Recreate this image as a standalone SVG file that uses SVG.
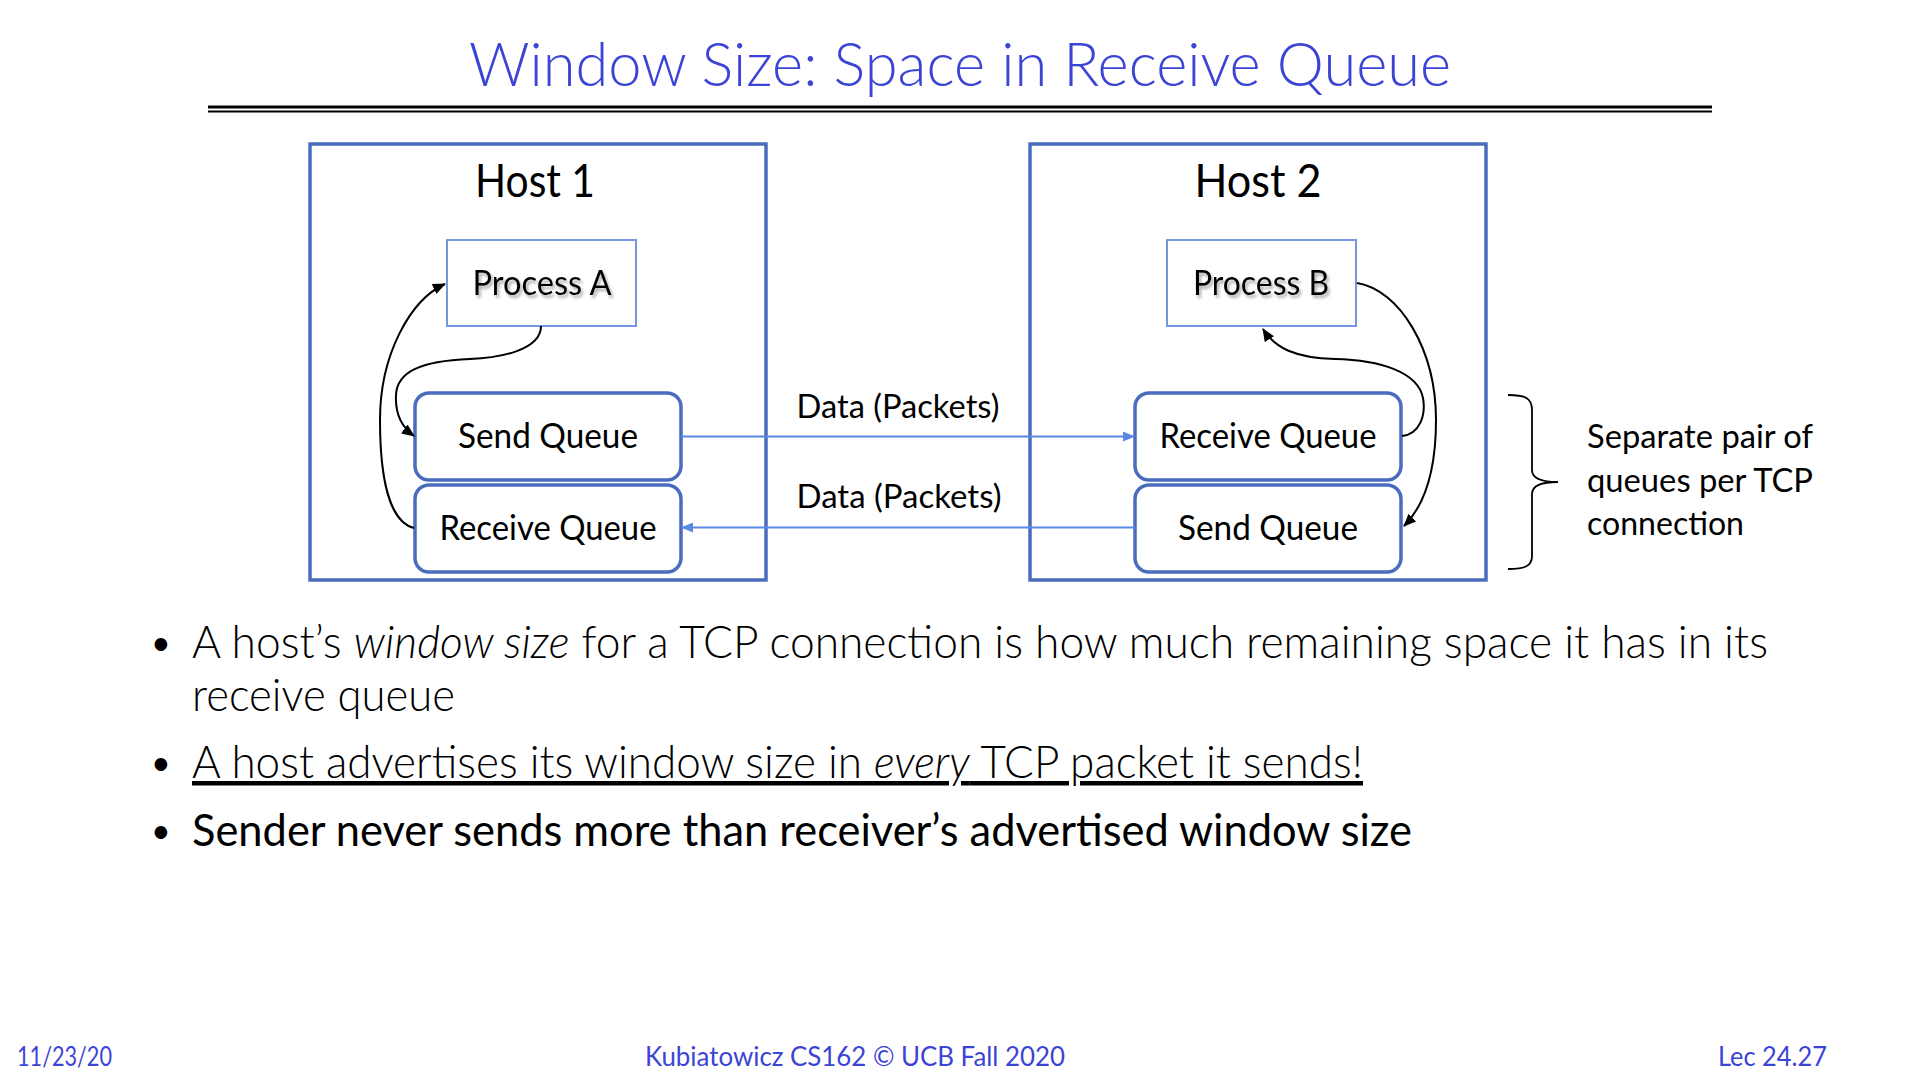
<svg xmlns="http://www.w3.org/2000/svg" width="1920" height="1080" viewBox="0 0 1920 1080">
<style>
  text { font-family: Lato, "Liberation Sans", sans-serif; fill: #000; }
  .title { font-size: 62px; fill: #3B44D4; font-weight: 300; }
  .foot { font-size: 26px; fill: #3B44D4; }
  .host { fill: #fff; stroke: #4A6CBF; stroke-width: 3.5; }
  .proc { fill: #fff; stroke: #7397E2; stroke-width: 2; }
  .queue { fill: #fff; stroke: #4A6CBF; stroke-width: 3.5; }
  .hostlbl { font-size: 46px; }
  .proclbl { font-size: 35px; }
  .qlbl { font-size: 34px; }
  .data { stroke: #5B87E5; stroke-width: 2; fill: none; }
  .curve { stroke: #000; stroke-width: 2; fill: none; marker-end: url(#blackArrow); }
  .dlbl { font-size: 33px; }
  .bullet { font-size: 45px; font-weight: 300; }
  .bullet.strong { font-weight: 400; }
  .dot { font-size: 34px; }
  .note { font-size: 33px; }
</style>
<defs>
  <marker id="blueArrow" markerWidth="12" markerHeight="10" refX="11" refY="5" orient="auto" markerUnits="userSpaceOnUse">
    <path d="M0,0 L12,5 L0,10 z" fill="#5B87E5"/>
  </marker>
  <marker id="blackArrow" markerWidth="13" markerHeight="11" refX="12" refY="5.5" orient="auto" markerUnits="userSpaceOnUse">
    <path d="M0,0 L13,5.5 L0,11 z" fill="#000"/>
  </marker>
  <filter id="shadow" x="-10%" y="-20%" width="130%" height="150%">
    <feDropShadow dx="2" dy="3" stdDeviation="1.6" flood-color="#777" flood-opacity="0.6"/>
  </filter>
</defs>
<rect width="1920" height="1080" fill="#fff"/>

<g id="title">
  <text class="title" x="960" y="86" text-anchor="middle" textLength="982" lengthAdjust="spacingAndGlyphs">Window Size: Space in Receive Queue</text>
  <line x1="208" y1="107" x2="1712" y2="107" stroke="#000" stroke-width="3"/>
  <line x1="208" y1="111.5" x2="1712" y2="111.5" stroke="#000" stroke-width="2"/>
</g>

<g id="host1">
  <rect class="host" x="310" y="144" width="456" height="436"/>
  <text class="hostlbl" x="535" y="197" text-anchor="middle" textLength="120" lengthAdjust="spacingAndGlyphs">Host 1</text>
</g>
<g id="host2">
  <rect class="host" x="1030" y="144" width="456" height="436"/>
  <text class="hostlbl" x="1258" y="197" text-anchor="middle" textLength="127" lengthAdjust="spacingAndGlyphs">Host 2</text>
</g>

<g id="processA">
  <rect class="proc" x="447" y="240" width="189" height="86"/>
  <text class="proclbl" x="542" y="295" text-anchor="middle" filter="url(#shadow)" textLength="139" lengthAdjust="spacingAndGlyphs">Process A</text>
</g>
<g id="processB">
  <rect class="proc" x="1167" y="240" width="189" height="86"/>
  <text class="proclbl" x="1261" y="295" text-anchor="middle" filter="url(#shadow)" textLength="136" lengthAdjust="spacingAndGlyphs">Process B</text>
</g>

<g id="sendQueue1">
  <rect class="queue" x="415" y="393" width="266" height="87" rx="14"/>
  <text class="qlbl" x="548" y="448" text-anchor="middle" textLength="180" lengthAdjust="spacingAndGlyphs">Send Queue</text>
</g>
<g id="receiveQueue1">
  <rect class="queue" x="415" y="485" width="266" height="87" rx="14"/>
  <text class="qlbl" x="548" y="540" text-anchor="middle" textLength="217" lengthAdjust="spacingAndGlyphs">Receive Queue</text>
</g>
<g id="receiveQueue2">
  <rect class="queue" x="1135" y="393" width="266" height="87" rx="14"/>
  <text class="qlbl" x="1268" y="448" text-anchor="middle" textLength="217" lengthAdjust="spacingAndGlyphs">Receive Queue</text>
</g>
<g id="sendQueue2">
  <rect class="queue" x="1135" y="485" width="266" height="87" rx="14"/>
  <text class="qlbl" x="1268" y="540" text-anchor="middle" textLength="180" lengthAdjust="spacingAndGlyphs">Send Queue</text>
</g>

<g id="connectors">
  <line class="data" x1="681" y1="436.5" x2="1134" y2="436.5" marker-end="url(#blueArrow)"/>
  <line class="data" x1="1135" y1="527.5" x2="682" y2="527.5" marker-end="url(#blueArrow)"/>
  <path class="curve" d="M541,326 C541,350 500,358 470,359 C420,361 397,372 396,395 C395,415 403,428 414,436"/>
  <path class="curve" d="M414,528 C390,522 380,480 380,420 C380,355 410,300 445,284"/>
  <path class="curve" d="M1402,436 C1420,434 1426,415 1423,398 C1418,372 1380,360 1335,359 C1295,358 1275,348 1263,329"/>
  <path class="curve" d="M1357,283 C1400,290 1436,350 1436,420 C1436,470 1425,505 1404,526"/>
  <text class="dlbl" x="898" y="418" text-anchor="middle" textLength="203" lengthAdjust="spacingAndGlyphs">Data (Packets)</text>
  <text class="dlbl" x="899" y="508" text-anchor="middle" textLength="205" lengthAdjust="spacingAndGlyphs">Data (Packets)</text>
</g>

<g id="brace">
  <path d="M1508,395 C1525,395 1532,398 1532,410 L1532,470 C1532,478 1540,482 1558,482 M1558,482 C1540,482 1532,486 1532,494 L1532,556 C1532,566 1525,569 1508,569" stroke="#000" stroke-width="1.8" fill="none"/>
  <text class="note" x="1587" y="448" textLength="226" lengthAdjust="spacingAndGlyphs">Separate pair of</text>
  <text class="note" x="1587" y="492" textLength="226" lengthAdjust="spacingAndGlyphs">queues per TCP</text>
  <text class="note" x="1587" y="535" textLength="157" lengthAdjust="spacingAndGlyphs">connection</text>
</g>

<g id="bullets">
  <text class="dot" x="151" y="655">•</text>
  <text class="bullet" x="192" y="658" textLength="1576" lengthAdjust="spacingAndGlyphs">A host’s <tspan font-style="italic">window size</tspan> for a TCP connection is how much remaining space it has in its</text>
  <text class="bullet" x="192" y="711" textLength="263" lengthAdjust="spacingAndGlyphs">receive queue</text>
  <text class="dot" x="151" y="775">•</text>
  <text class="bullet" x="192" y="778" text-decoration="underline" textLength="1171" lengthAdjust="spacingAndGlyphs">A host advertises its window size in <tspan font-style="italic">every</tspan> TCP packet it sends!</text>
  <text class="dot" x="151" y="843">•</text>
  <text class="bullet strong" x="192" y="846" textLength="1220" lengthAdjust="spacingAndGlyphs">Sender never sends more than receiver’s advertised window size</text>
</g>

<g id="footer">
  <text class="foot" x="17" y="1066" textLength="95" lengthAdjust="spacingAndGlyphs">11/23/20</text>
  <text class="foot" x="855" y="1066" text-anchor="middle" textLength="420" lengthAdjust="spacingAndGlyphs">Kubiatowicz CS162 © UCB Fall 2020</text>
  <text class="foot" x="1827" y="1066" text-anchor="end" textLength="109" lengthAdjust="spacingAndGlyphs">Lec 24.27</text>
</g>
</svg>
